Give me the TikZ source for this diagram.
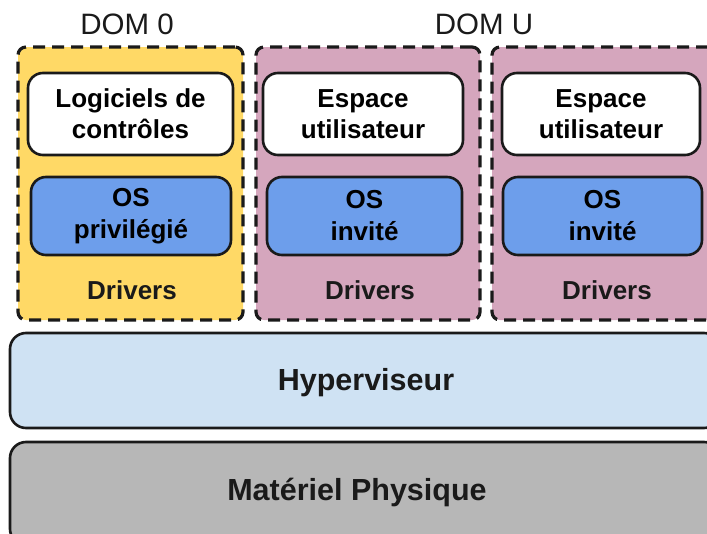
\documentclass[tikz,border=0pt]{standalone}
\usepackage{fontspec}
\setmainfont{Liberation Sans}
\definecolor{domzero}{HTML}{FFD966}
\definecolor{domu}{HTML}{D5A6BD}
\definecolor{osblue}{HTML}{6D9EEB}
\definecolor{hyperblue}{HTML}{CFE2F3}
\definecolor{hwgray}{HTML}{B7B7B7}
\definecolor{edge}{HTML}{1A1A1A}
\tikzset{
  dombox/.style={draw=edge, line width=3.2pt, dash pattern=on 12pt off 7pt, rounded corners=8pt, inner sep=0pt},
  userbox/.style={draw=edge, line width=2.6pt, fill=white, rounded corners=15pt, inner sep=0pt, align=center,
    font=\fontsize{26}{31}\selectfont\bfseries},
  osbox/.style={draw=edge, line width=2.6pt, fill=osblue, rounded corners=15pt, inner sep=0pt, align=center,
    font=\fontsize{26}{32}\selectfont\bfseries},
  layerbox/.style={draw=edge, line width=2.6pt, rounded corners=16pt, inner sep=0pt},
  drvtext/.style={font=\fontsize{26}{32}\selectfont\bfseries, text=edge},
  layertext/.style={font=\fontsize{30.5}{34}\selectfont\bfseries, text=edge},
  domlabel/.style={font=\fontsize{29.5}{32}\selectfont, text=edge}
}
\begin{document}
\begin{tikzpicture}[x=1pt,y=-1pt]
\useasboundingbox (0,0) rectangle (707,533);
\clip (0,0) rectangle (707,533);
% domain containers
\node[dombox, fill=domzero, minimum width=225pt, minimum height=273pt] (d0) at (130.5,183.5) {};
\node[dombox, fill=domu, minimum width=224pt, minimum height=273pt] (du1) at (368,183.5) {};
\node[dombox, fill=domu, minimum width=224pt, minimum height=273pt] (du2) at (604,183.5) {};
% labels
\node[domlabel] (l0) at (127,24) {DOM 0};
\node[domlabel] (lu) at (484,24) {DOM U};
% inner boxes
\node[userbox, minimum width=205pt, minimum height=82pt] (u0) at (130.5,114) {Logiciels de\\contrôles};
\node[osbox, minimum width=200pt, minimum height=78pt] (o0) at (131,216) {OS\\privilégié};
\node[drvtext] (r0) at (132,290) {Drivers};
\node[userbox, minimum width=200pt, minimum height=82pt] (u1) at (363,114) {Espace\\utilisateur};
\node[osbox, minimum width=195pt, minimum height=78pt] (o1) at (364.5,216) {OS\\invité};
\node[drvtext] (r1) at (370,290) {Drivers};
\node[userbox, minimum width=198pt, minimum height=82pt] (u2) at (601,114) {Espace\\utilisateur};
\node[osbox, minimum width=199pt, minimum height=78pt] (o2) at (602.5,216) {OS\\invité};
\node[drvtext] (r2) at (607,290) {Drivers};
% layers
\node[layerbox, fill=hyperblue, minimum width=710pt, minimum height=95pt] (hv) at (365,380.5) {};
\node[layertext] (hvt) at (366,383) {Hyperviseur};
\node[layerbox, fill=hwgray, minimum width=710pt, minimum height=103pt] (hw) at (365,493.5) {};
\node[layertext] (hwt) at (357,492) {Matériel Physique};
\end{tikzpicture}
\end{document}
